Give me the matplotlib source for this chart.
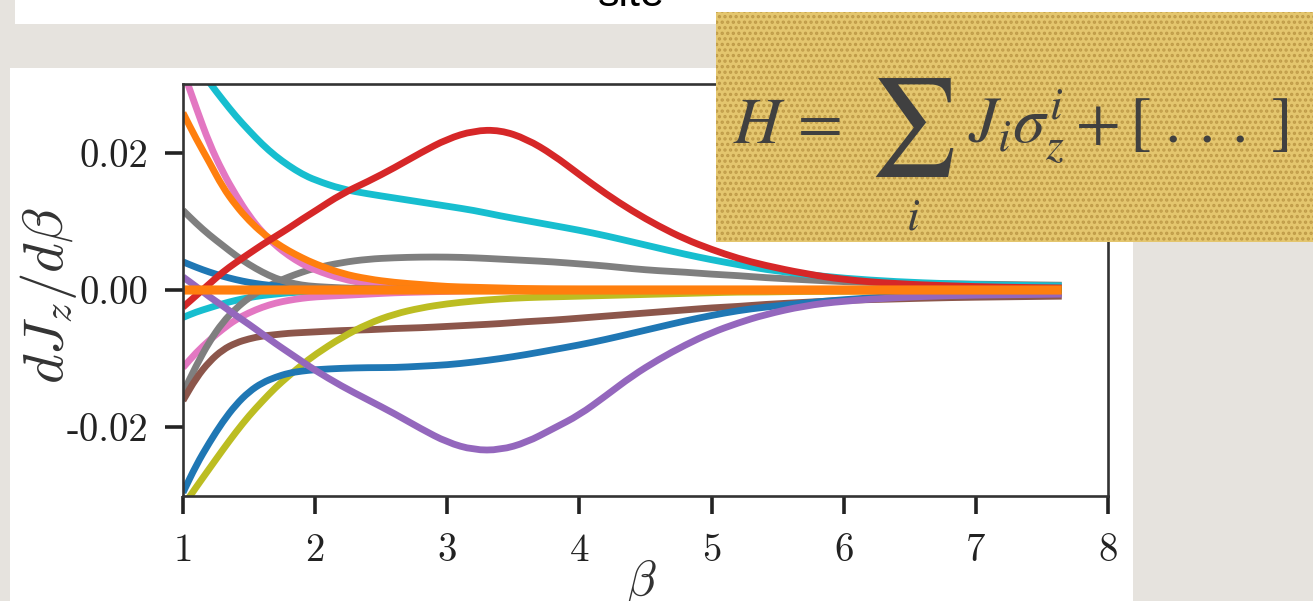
import matplotlib
matplotlib.use("Agg")
import matplotlib.pyplot as plt
from matplotlib.patches import Rectangle, PathPatch
from matplotlib.path import Path

plt.rcParams["mathtext.fontset"] = "cm"
plt.rcParams["hatch.linewidth"] = 1.6

## data (beta grid shared by all curves)
beta = [1.0, 1.1, 1.2, 1.3, 1.4, 1.5, 1.6, 1.7, 1.8, 1.9, 2.0, 2.2, 2.4, 2.6, 2.8,
        3.0, 3.2, 3.4, 3.6, 3.8, 4.0, 4.2, 4.4, 4.6, 4.8, 5.0, 5.2, 5.4, 5.7, 6.0,
        6.4, 6.8, 7.2, 7.65]

cyan_low = [-0.0040, -0.0032, -0.0026, -0.0020, -0.0015, -0.0011, -0.0008, -0.0006, -0.0004, -0.0003,
            -0.0002, -0.0001, 0, 0, 0, 0, 0, 0, 0, 0, 0, 0, 0, 0, 0, 0, 0, 0, 0, 0, 0, 0, 0, 0]
pink_low = [-0.0113, -0.0091, -0.0073, -0.0057, -0.0043, -0.0033, -0.0025, -0.0019, -0.0015, -0.0012,
            -0.0010, -0.0008, -0.0006, -0.0004, -0.0003, -0.0002, -0.0001, -0.0001, -0.0001, 0, 0, 0,
            0, 0, 0, 0, 0, 0, 0, 0, 0, 0, 0, 0]
gray_low = [-0.0150, -0.0110, -0.0075, -0.0047, -0.0027, -0.0011, 0.0001, 0.0011, 0.0019, 0.0026,
            0.0032, 0.0040, 0.0045, 0.0047, 0.0048, 0.0048, 0.0047, 0.0045, 0.0043, 0.0041, 0.0038,
            0.0035, 0.0031, 0.0028, 0.0026, 0.0023, 0.0021, 0.0018, 0.0015, 0.0012, 0.0010, 0.0009,
            0.0008, 0.0007]
brown = [-0.0161, -0.0128, -0.0104, -0.0087, -0.0077, -0.0071, -0.0067, -0.0065, -0.0063, -0.0062,
         -0.0061, -0.0059, -0.0058, -0.0056, -0.0055, -0.0053, -0.0051, -0.0049, -0.0046, -0.0044,
         -0.0041, -0.0038, -0.0035, -0.0032, -0.0029, -0.0026, -0.0024, -0.0021, -0.0018, -0.0015,
         -0.0013, -0.0011, -0.0010, -0.0009]
olive = [-0.0315, -0.0287, -0.0260, -0.0233, -0.0207, -0.0183, -0.0162, -0.0142, -0.0125, -0.0109,
         -0.0094, -0.0069, -0.0049, -0.0035, -0.0026, -0.0020, -0.0016, -0.0013, -0.0011, -0.0010,
         -0.0009, -0.0008, -0.0007, -0.0006, -0.0005, -0.0004, -0.0003, -0.0003, -0.0002, -0.0002,
         -0.0001, -0.0001, -0.0001, -0.0001]
blue_low = [-0.0295, -0.0255, -0.0222, -0.0192, -0.0167, -0.0148, -0.0135, -0.0127, -0.0121, -0.0118,
            -0.0116, -0.0114, -0.0113, -0.0113, -0.0111, -0.0109, -0.0105, -0.0100, -0.0094, -0.0087,
            -0.0080, -0.0072, -0.0063, -0.0054, -0.0045, -0.0037, -0.0030, -0.0025, -0.0019, -0.0014,
            -0.0009, -0.0006, -0.0004, -0.0003]
blue_up = [0.0041, 0.0033, 0.0026, 0.0020, 0.0015, 0.0011, 0.0008, 0.0006, 0.0004, 0.0003,
           0.0002, 0.0001, 0, 0, 0, 0, 0, 0, 0, 0, 0, 0, 0, 0, 0, 0, 0, 0, 0, 0, 0, 0, 0, 0]
pink_up = [0.0320, 0.0265, 0.0213, 0.0172, 0.0138, 0.0108, 0.0084, 0.0065, 0.0050, 0.0038,
           0.0029, 0.0016, 0.0009, 0.0005, 0.0003, 0.0002, 0.0001, 0, 0, 0, 0, 0, 0, 0, 0, 0, 0,
           0, 0, 0, 0, 0, 0, 0]
orange_up = [0.0258, 0.0220, 0.0186, 0.0150, 0.0123, 0.0101, 0.0083, 0.0069, 0.0057, 0.0047,
             0.0038, 0.0024, 0.0016, 0.0011, 0.0008, 0.0005, 0.0004, 0.0003, 0.0002, 0.0001,
             0.0001, 0, 0, 0, 0, 0, 0, 0, 0, 0, 0, 0, 0, 0]
gray_up = [0.0116, 0.0097, 0.0080, 0.0065, 0.0050, 0.0037, 0.0026, 0.0017, 0.0011, 0.0007,
           0.0005, 0.0003, 0.0002, 0.0001, 0.0001, 0, 0, 0, 0, 0, 0, 0, 0, 0, 0, 0, 0, 0, 0, 0,
           0, 0, 0, 0]
cyan_up = [0.0360, 0.0330, 0.0302, 0.0277, 0.0253, 0.0232, 0.0212, 0.0195, 0.0181, 0.0169,
           0.0160, 0.0147, 0.0140, 0.0134, 0.0128, 0.0122, 0.0116, 0.0108, 0.0101, 0.0094,
           0.0087, 0.0079, 0.0070, 0.0061, 0.0052, 0.0044, 0.0037, 0.0030, 0.0023, 0.0017,
           0.0012, 0.0009, 0.0007, 0.0006]
purple = [0.0019, 0.0005, -0.0010, -0.0023, -0.0037, -0.0050, -0.0064, -0.0078, -0.0091, -0.0104,
          -0.0117, -0.0140, -0.0160, -0.0180, -0.0202, -0.0222, -0.0233, -0.0233, -0.0222, -0.0202,
          -0.0182, -0.0154, -0.0125, -0.0101, -0.0080, -0.0062, -0.0048, -0.0036, -0.0023, -0.0016,
          -0.0011, -0.0008, -0.0007, -0.0006]
red = [-0.0025, -0.0008, 0.0009, 0.0026, 0.0040, 0.0053, 0.0066, 0.0078, 0.0090, 0.0103,
       0.0115, 0.0140, 0.0158, 0.0178, 0.0200, 0.0220, 0.0232, 0.0233, 0.0220, 0.0197,
       0.0168, 0.0140, 0.0115, 0.0093, 0.0074, 0.0059, 0.0046, 0.0036, 0.0024, 0.0015,
       0.0009, 0.0006, 0.0004, 0.0003]
flat = [0.0] * len(beta)

curves = [
    (cyan_low, "tab:cyan"),
    (pink_low, "tab:pink"),
    (gray_low, "tab:gray"),
    (brown, "tab:brown"),
    (olive, "tab:olive"),
    (blue_low, "tab:blue"),
    (blue_up, "tab:blue"),
    (pink_up, "tab:pink"),
    (orange_up, "tab:orange"),
    (gray_up, "tab:gray"),
    (cyan_up, "tab:cyan"),
    (purple, "tab:purple"),
    (red, "tab:red"),
    (flat, "tab:green"),
]

yticks = [-0.02, 0.0, 0.02]
ytick_labels = ["-0.02", "0.00", "0.02"]
xticks = [1, 2, 3, 4, 5, 6, 7, 8]

W, H = 1313, 601
fig = plt.figure(figsize=(W / 100, H / 100), dpi=100, facecolor="#e6e3de")


def px_rect(x0, y0, x1, y1, **kw):
    # rectangle given in pixel coords (origin top-left)
    r = Rectangle((x0 / W, 1 - y1 / H), (x1 - x0) / W, (y1 - y0) / H,
                  transform=fig.transFigure, **kw)
    fig.patches.append(r)
    return r


def px_text(x, y, s, **kw):
    return fig.text(x / W, 1 - y / H, s, **kw)


def smooth_line(ax, xs, ys, **kw):
    # quadratic bezier through the midpoints, the read points act as controls
    pts = list(zip(xs, ys))
    mids = [((a[0] + b[0]) / 2, (a[1] + b[1]) / 2) for a, b in zip(pts[:-1], pts[1:])]
    verts = [pts[0], mids[0]]
    codes = [Path.MOVETO, Path.LINETO]
    for i in range(1, len(pts) - 1):
        verts += [pts[i], mids[i]]
        codes += [Path.CURVE3, Path.CURVE3]
    verts.append(pts[-1])
    codes.append(Path.LINETO)
    ax.add_patch(PathPatch(Path(verts, codes), fill=False, capstyle="butt",
                           joinstyle="round", **kw))


# white slide panels
px_rect(15, -5, 1320, 24, facecolor="white", edgecolor="none", zorder=-2)
px_rect(10, 68, 1133, 610, facecolor="white", edgecolor="none", zorder=-2)
px_text(598, 6, "site", fontsize=31, family="Liberation Sans",
        color="black", va="baseline", ha="left")

ax = fig.add_axes([183 / W, 1 - 496 / H, (1108 - 183) / W, (496 - 84) / H])
ax.set_facecolor("white")

for vals, col in curves:
    smooth_line(ax, beta, vals, edgecolor=col, lw=4.9)
smooth_line(ax, beta, flat, edgecolor="tab:orange", lw=6.6)

ax.set_xlim(1, 8)
ax.set_ylim(-0.03, 0.03)
ax.set_xticks(xticks)
ax.set_xticklabels([str(t) for t in xticks], family="cmr10", fontsize=28)
ax.set_yticks(yticks)
ax.set_yticklabels(ytick_labels, family="cmr10", fontsize=28)
ax.tick_params(direction="out", length=13, width=2.6, color="#222222",
               labelcolor="#222222", top=False, right=False)
ax.tick_params(axis="x", pad=14)
ax.tick_params(axis="y", pad=12)
for sp in ax.spines.values():
    sp.set_linewidth(1.9)
    sp.set_color("#333333")

px_text(63, 296, r"$dJ_z/d\beta$", fontsize=41, color="#333333",
        rotation=90, rotation_mode="anchor", ha="center", va="baseline")
px_text(641, 558, r"$\beta$", fontsize=35, color="#333333", ha="center", va="top")

# yellow formula card on top of the chart
px_rect(716, 12, 1320, 242, facecolor="#e4c66e", edgecolor="#bf9b48",
        hatch="...", lw=0, zorder=5)
fcol = "#404040"
px_text(733, 143, r"$H\, =$", fontsize=47, color=fcol, math_fontfamily="stix",
        ha="left", va="baseline", zorder=6)
px_text(912, 127, r"$\sum$", fontsize=70, color=fcol, math_fontfamily="stix",
        ha="center", va="center", zorder=6)
px_text(913, 229, r"$i$", fontsize=33, color=fcol, math_fontfamily="stix",
        ha="center", va="baseline", zorder=6)
px_text(968, 143, r"$J_i\sigma_z^i + [\;.\,.\,.\;]$", fontsize=47, color=fcol,
        math_fontfamily="stix", ha="left", va="baseline", zorder=6)

fig.savefig("out.png", dpi=100, facecolor=fig.get_facecolor())
